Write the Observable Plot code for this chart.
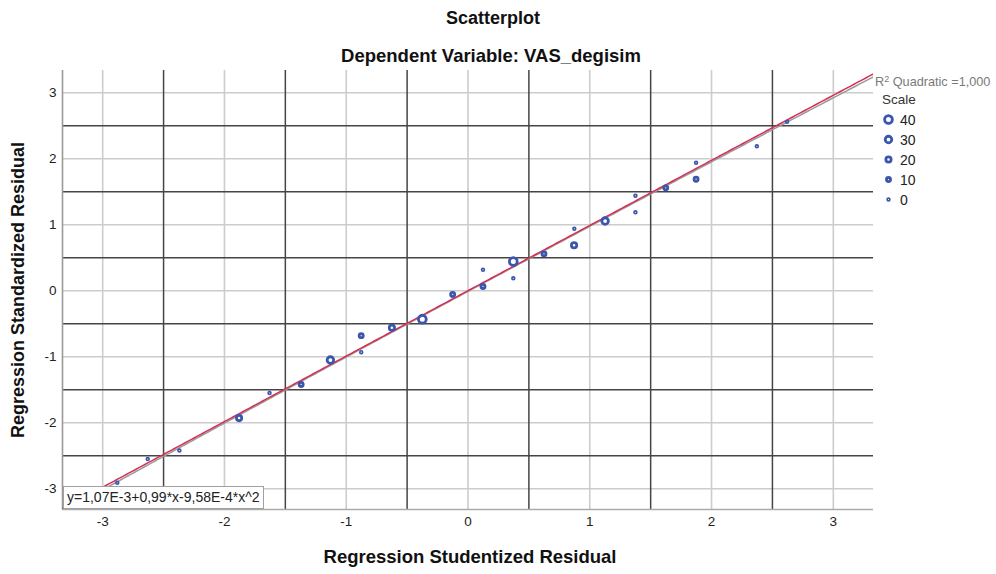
<!DOCTYPE html>
<html><head><meta charset="utf-8">
<script src="https://cdn.jsdelivr.net/npm/d3@7"></script>
<script src="https://cdn.jsdelivr.net/npm/@observablehq/plot@0.6"></script>
<style>
body{margin:0;background:#fff;font-family:"Liberation Sans",Arial,sans-serif;}
#wrap{position:relative;width:996px;height:574px;overflow:hidden;}
#eq{position:absolute;left:63px;top:486px;height:21px;padding:0 3px;border:1px solid #a0a0a0;background:#fff;font-size:14px;line-height:21px;color:#222;white-space:nowrap;}
#legend{position:absolute;left:0;top:0;pointer-events:none;}
</style></head><body><div id="wrap"></div>
<script>
// ---- data ----
const studentized = [-2.88,-2.63,-2.37,-1.88,-1.63,-1.37,-1.13,-0.877,-0.877,-0.625,-0.375,-0.126,0.123,0.123,0.372,0.372,0.624,0.871,0.873,1.126,1.375,1.375,1.624,1.873,1.873,2.372,2.62];
const standardized = [-2.91,-2.55,-2.42,-1.93,-1.55,-1.42,-1.05,-0.68,-0.93,-0.56,-0.43,-0.056,0.317,0.065,0.443,0.19,0.56,0.69,0.94,1.057,1.44,1.19,1.56,1.94,1.69,2.19,2.56];
const scaleValues = [0,0,0,20,0,10,30,10,0,20,40,10,0,10,40,0,10,20,0,30,0,0,10,0,10,0,0];
const tickValues = [-3,-2,-1,0,1,2,3];
const majorGrid = [-2.5,-1.5,-0.5,0.5,1.5,2.5];
const xDomain = [-3.33, 3.33];
const yDomain = [-3.315, 3.338];
const fitCoef = [1.07e-3, 0.99, -9.58e-4];   // y = a + b*x + c*x^2 (shown on chart)
const refCoef = [-0.01, 0.99, -0.004];       // grey companion line (estimated)
const legendSizes = [40, 30, 20, 10, 0];
const titleText = "Scatterplot";
const subtitleText = "Dependent Variable: VAS_degisim";
const xTitle = "Regression Studentized Residual";
const yTitle = "Regression Standardized Residual";
const eqText = "y=1,07E-3+0,99*x-9,58E-4*x^2";

const pts = studentized.map((x, i) => ({x, y: standardized[i], s: scaleValues[i]}));
const curve = c => d3.range(xDomain[0], xDomain[1] + 0.001, 0.02).map(x => ({x, y: c[0] + c[1]*x + c[2]*x*x}));

const blue = "#3a57ad";
const fmt = d => String(d);
const plot = Plot.plot({
  width: 996, height: 574,
  marginLeft: 62, marginRight: 123, marginTop: 70, marginBottom: 65,
  style: {fontFamily: "'Liberation Sans', Arial, sans-serif", fontSize: "13px", color: "#222", background: "#fff"},
  x: {domain: xDomain},
  y: {domain: yDomain},
  r: {type: "linear", domain: [0, 40], range: [1.4, 3.9]},
  marks: [
    Plot.ruleX(tickValues, {stroke: "#cccccc", strokeWidth: 1.6}),
    Plot.ruleY(tickValues, {stroke: "#cccccc", strokeWidth: 1.6}),
    Plot.ruleX(majorGrid, {stroke: "#454545", strokeWidth: 1.5}),
    Plot.ruleY(majorGrid, {stroke: "#454545", strokeWidth: 1.5}),
    Plot.ruleX([xDomain[0]], {stroke: "#999", strokeWidth: 1.6}),
    Plot.ruleY([yDomain[0]], {stroke: "#aaa", strokeWidth: 1.6}),
    Plot.axisX(tickValues, {tickSize: 0, tickPadding: 7, label: null, fontSize: 13.5, tickFormat: fmt}),
    Plot.axisY(tickValues, {tickSize: 0, tickPadding: 6, label: null, fontSize: 13.5, tickFormat: fmt}),
    Plot.line(curve(refCoef), {x: "x", y: "y", stroke: "#9a9a9a", strokeWidth: 1.5, clip: true}),
    Plot.line(curve(fitCoef), {x: "x", y: "y", stroke: "#d62f55", strokeWidth: 1.5, clip: true}),
    Plot.dot(pts, {x: "x", y: "y", r: "s", stroke: blue, fill: "none", strokeWidth: d => d.s === 0 ? 1.7 : 2.8}),
    Plot.text([titleText], {text: d => d, frameAnchor: "top", lineAnchor: "middle", dx: 25, dy: -52, fontWeight: "bold", fontSize: 18, fill: "#111"}),
    Plot.text([subtitleText], {text: d => d, frameAnchor: "top", lineAnchor: "middle", dx: 23, dy: -14, fontWeight: "bold", fontSize: 18.5, fill: "#111"}),
    Plot.text([xTitle], {text: d => d, frameAnchor: "bottom", lineAnchor: "middle", dx: 2, dy: 48, fontWeight: "bold", fontSize: 18.5, fill: "#111"}),
    Plot.text([yTitle], {text: d => d, frameAnchor: "left", textAnchor: "middle", lineAnchor: "middle", dx: -44, rotate: -90, fontWeight: "bold", fontSize: 18, fill: "#111"})
  ]
});
const wrap = document.getElementById("wrap");
wrap.appendChild(plot);

const eq = document.createElement("div");
eq.id = "eq"; eq.textContent = eqText;
wrap.appendChild(eq);

// legend (drawn with the plot's own r scale)
const rScale = plot.scale("r");
const rFn = v => rScale.range[0] + (v - rScale.domain[0]) / (rScale.domain[1] - rScale.domain[0]) * (rScale.range[1] - rScale.range[0]);
const svg = d3.select(wrap).append("svg").attr("id", "legend").attr("width", 996).attr("height", 574)
  .style("font-family", "'Liberation Sans', Arial, sans-serif");
const r2 = svg.append("text").attr("x", 875).attr("y", 86).attr("fill", "#7a7a7a").attr("font-size", 12.7);
r2.append("tspan").text("R");
r2.append("tspan").attr("dy", -4.5).attr("font-size", 9).text("2");
r2.append("tspan").attr("dy", 4.5).text(" Quadratic =1,000");
svg.append("text").attr("x", 882).attr("y", 104).attr("fill", "#333").attr("font-size", 13.5).text("Scale");
legendSizes.forEach((v, i) => {
  const cy = 119.5 + i * 20;
  svg.append("circle").attr("cx", 888.5).attr("cy", cy).attr("r", rFn(v))
    .attr("fill", "none").attr("stroke", blue).attr("stroke-width", v === 0 ? 1.7 : 2.8);
  svg.append("text").attr("x", 900).attr("y", cy + 5).attr("fill", "#222").attr("font-size", 14).text(String(v));
});
</script></body></html>
